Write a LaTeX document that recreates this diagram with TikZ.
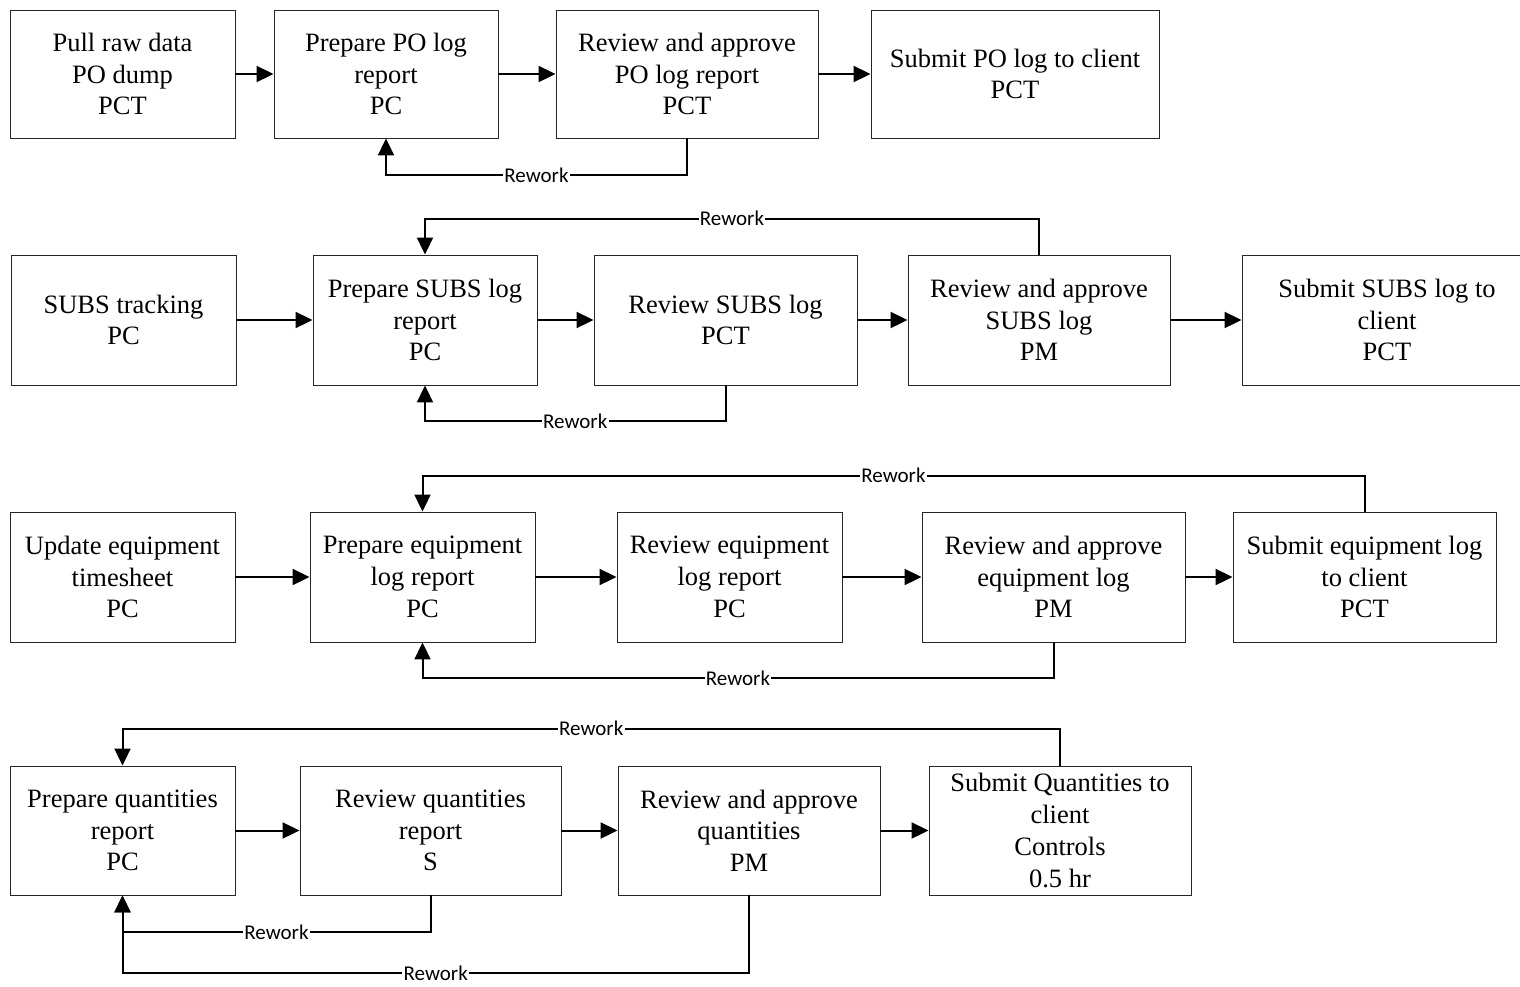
\documentclass[tikz,border=0pt]{standalone}
\usepackage{fontspec}
\setmainfont{Liberation Serif}
\newfontfamily\labelfont{Carlito}
\usetikzlibrary{arrows.meta}

\tikzset{
  stepbox/.style={draw=black!85, line width=0.9pt, rectangle, inner sep=0pt,
    align=center, font=\fontsize{26.5}{31.7}\selectfont},
  w/.style={minimum width=#1},
  h/.style={minimum height=#1},
  flow/.style={line width=2pt, -{Triangle[length=17pt,width=16pt]}},
  rework/.style={fill=white, inner sep=1.2pt, font=\labelfont\fontsize{21}{23}\selectfont}
}

\begin{document}
\begin{tikzpicture}[x=1pt, y=-1pt]
\clip (0,0) rectangle (1520,986);

% ---- Purchase orders ----
\node[stepbox, w=225, h=128] (a1) at (122.5,74) {Pull raw data\\PO dump\\PCT};
\node[stepbox, w=224, h=128] (a2) at (386,74) {Prepare PO log\\report\\PC};
\node[stepbox, w=262, h=128] (a3) at (687,74) {Review and approve\\PO log report\\PCT};
\node[stepbox, w=288, h=128] (a4) at (1015,74) {Submit PO log to client\\PCT};

\draw[flow] (a1) -- (a2);
\draw[flow] (a2) -- (a3);
\draw[flow] (a3) -- (a4);
\draw[flow] (a3.south) -- ++(0,37) -| node[rework, pos=0.25] {Rework} (a2.south);

% ---- Subcontracts ----
\node[stepbox, w=225, h=130] (b1) at (123.5,320) {SUBS tracking\\PC};
\node[stepbox, w=224, h=130] (b2) at (425,320) {Prepare SUBS log\\report\\PC};
\node[stepbox, w=263, h=130] (b3) at (725.5,320) {Review SUBS log\\PCT};
\node[stepbox, w=262, h=130] (b4) at (1039,320) {Review and approve\\SUBS log\\PM};
\node[stepbox, w=290, h=130] (b5) at (1387,320) {Submit SUBS log to\\client\\PCT};

\draw[flow] (b1) -- (b2);
\draw[flow] (b2) -- (b3);
\draw[flow] (b3) -- (b4);
\draw[flow] (b4) -- (b5);
\draw[flow] (b4.north) -- ++(0,-36) -| node[rework, pos=0.25] {Rework} (b2.north);
\draw[flow] (b3.south) -- ++(0,36) -| node[rework, pos=0.25] {Rework} (b2.south);

% ---- Equipment ----
\node[stepbox, w=225, h=130] (c1) at (122.5,577) {Update equipment\\timesheet\\PC};
\node[stepbox, w=225, h=130] (c2) at (422.5,577) {Prepare equipment\\log report\\PC};
\node[stepbox, w=225, h=130] (c3) at (729.5,577) {Review equipment\\log report\\PC};
\node[stepbox, w=263, h=130] (c4) at (1053.5,577) {Review and approve\\equipment log\\PM};
\node[stepbox, w=263, h=130] (c5) at (1364.5,577) {Submit equipment log\\to client\\PCT};

\draw[flow] (c1) -- (c2);
\draw[flow] (c2) -- (c3);
\draw[flow] (c3) -- (c4);
\draw[flow] (c4) -- (c5);
\draw[flow] (c5.north) -- ++(0,-36) -| node[rework, pos=0.25] {Rework} (c2.north);
\draw[flow] (c4.south) -- ++(0,36) -| node[rework, pos=0.25] {Rework} (c2.south);

% ---- Quantities ----
\node[stepbox, w=225, h=129] (d1) at (122.5,830.5) {Prepare quantities\\report\\PC};
\node[stepbox, w=261, h=129] (d2) at (430.5,830.5) {Review quantities\\report\\S};
\node[stepbox, w=262, h=129] (d3) at (749,830.5) {Review and approve\\quantities\\PM};
\node[stepbox, w=262, h=129] (d4) at (1060,830.5) {Submit Quantities to\\client\\Controls\\0.5 hr};

\draw[flow] (d1) -- (d2);
\draw[flow] (d2) -- (d3);
\draw[flow] (d3) -- (d4);
\draw[flow] (d4.north) -- ++(0,-37) -| node[rework, pos=0.25] {Rework} (d1.north);
\draw[flow] (d2.south) -- ++(0,37) -| node[rework, pos=0.25] {Rework} (d1.south);
\draw[flow] (d3.south) -- ++(0,78) -| node[rework, pos=0.25] {Rework} (d1.south);

\end{tikzpicture}
\end{document}
